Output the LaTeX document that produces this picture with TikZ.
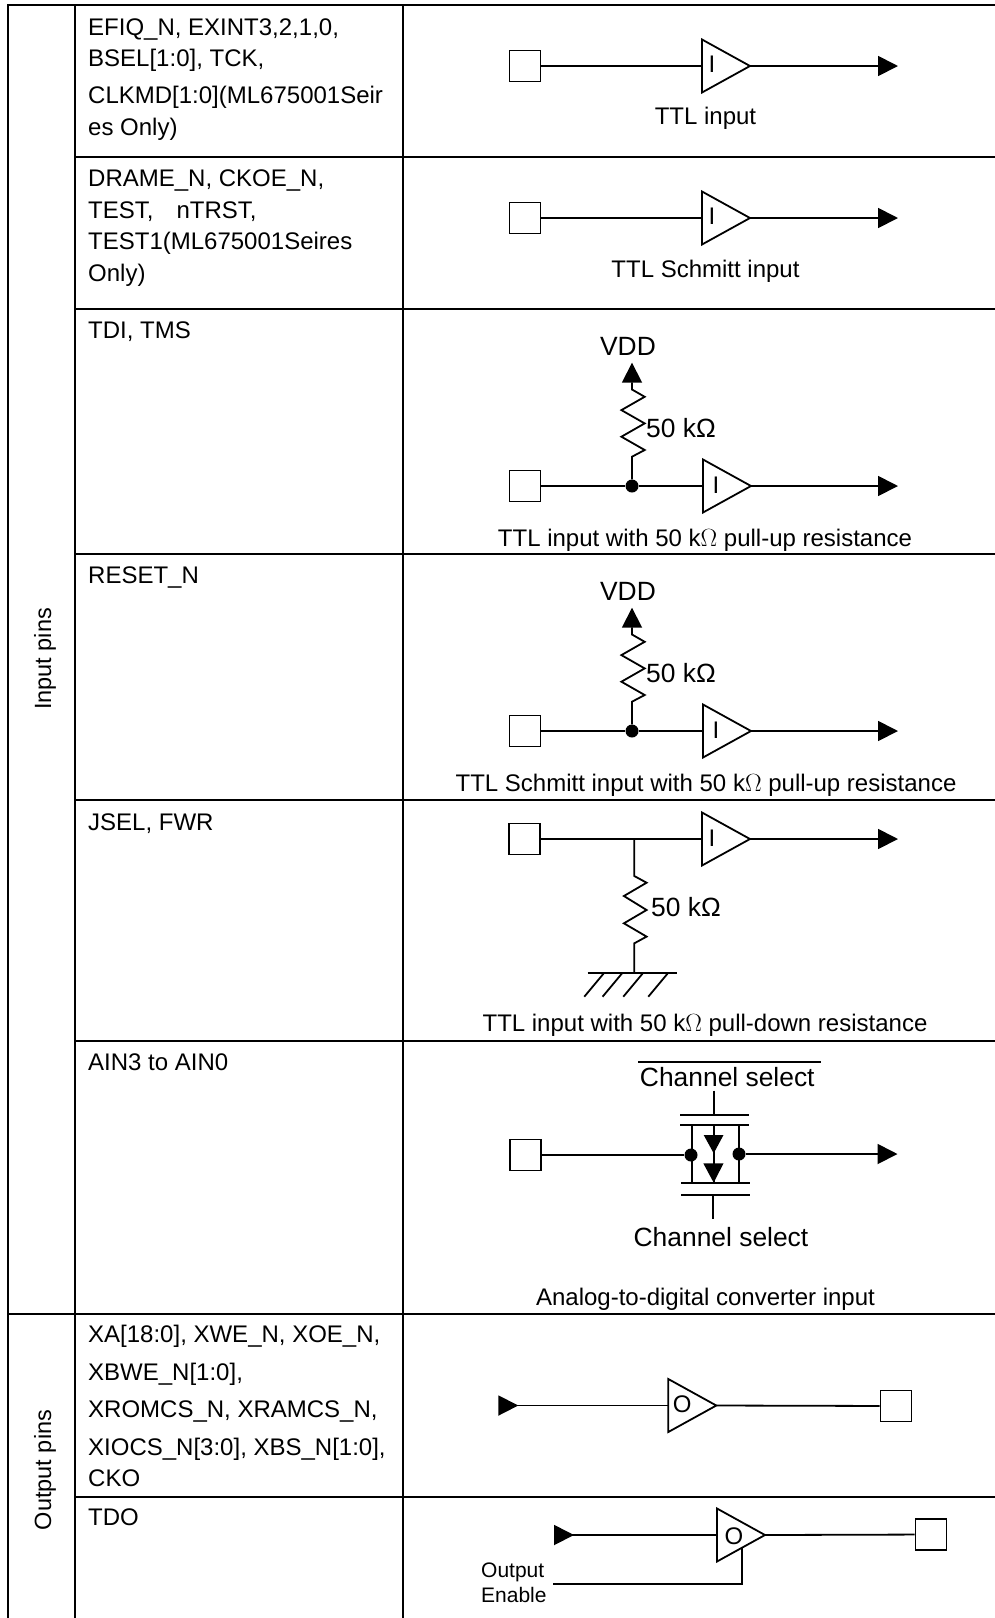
\documentclass[tikz,border=0pt]{standalone}
\usepackage{fontspec}
\setmainfont{Liberation Sans}
\usetikzlibrary{arrows.meta, shapes.geometric}
\tikzset{
	wire/.style={line width=1.8pt},
	rule/.style={line width=2pt},
	outtip/.style={-{Triangle[length=20pt,width=20pt]}},
	backtip/.style={{Triangle[reversed,length=20pt,width=20pt]}-},
	pad/.style={draw, line width=1.8pt, fill=white, inner sep=0pt, minimum size=31pt},
	dot/.style={circle, fill=black, inner sep=0pt, minimum size=13pt},
	buffer/.style={isosceles triangle, isosceles triangle stretches, draw, line width=1.8pt, inner sep=0pt, outer sep=0pt, minimum height=48pt, minimum width=53pt, anchor=lower side},
	txt/.style={inner sep=0pt, text height=17pt, text depth=0pt},
	cell/.style={txt, anchor=west, font=\fontsize{24}{28}\selectfont},
	side/.style={txt, rotate=90, font=\fontsize{23.5}{28}\selectfont},
	caption/.style={txt, font=\fontsize{24}{28}\selectfont},
	symlab/.style={txt, font=\fontsize{26.4}{30}\selectfont},
	gatelab/.style={txt, font=\fontsize{24}{28}\selectfont},
	smalllab/.style={txt, anchor=west, font=\fontsize{21}{24}\selectfont}
}
\begin{document}
\begin{tikzpicture}[x=1pt,y=-1pt]
	\useasboundingbox (0,0) rectangle (995,1618);

% table
	\draw[rule] (995,4.5) -- (8,4.5) -- (8,1618);
	\draw[rule] (75.3,4.5) -- (75.3,1618);
	\draw[rule] (403,4.5) -- (403,1618);
	\draw[rule] (75.3,157) -- (995,157);
	\draw[rule] (75.3,309) -- (995,309);
	\draw[rule] (75.3,554) -- (995,554);
	\draw[rule] (75.3,800) -- (995,800);
	\draw[rule] (75.3,1040.5) -- (995,1040.5);
	\draw[rule] (8,1314) -- (995,1314);
	\draw[rule] (75.3,1497) -- (995,1497);

% left column
	\node[side] (inpins) at (42.5,659) {Input pins};
	\node[side] (outpins) at (42.5,1470) {Output pins};

% pin names
	\node[cell] (a1) at (88,26.7) {EFIQ\_N, EXINT3,2,1,0,};
	\node[cell] (a2) at (88,58.3) {BSEL[1:0], TCK,};
	\node[cell] (a3) at (88,95) {CLKMD[1:0](ML675001Seir};
	\node[cell] (a4) at (88,126.7) {es Only)};

	\node[cell] (b1) at (88,178) {DRAME\_N, CKOE\_N,};
	\node[cell] (b2) at (88,210) {TEST,\ \ \ \hskip 3pt nTRST,};
	\node[cell] (b3) at (88,240.7) {TEST1(ML675001Seires};
	\node[cell] (b4) at (88,273) {Only)};

	\node[cell] (c1) at (88,330) {TDI, TMS};
	\node[cell] (d1) at (88,575) {RESET\_N};
	\node[cell] (e1) at (88,821.6) {JSEL, FWR};
	\node[cell] (f1) at (88,1062) {AIN3 to AIN0};

	\node[cell] (g1) at (88,1334) {XA[18:0], XWE\_N, XOE\_N,};
	\node[cell] (g2) at (88,1371.7) {XBWE\_N[1:0],};
	\node[cell] (g3) at (88,1409) {XROMCS\_N, XRAMCS\_N,};
	\node[cell] (g4) at (88,1446.7) {XIOCS\_N[3:0], XBS\_N[1:0],};
	\node[cell] (g5) at (88,1478) {CKO};
	\node[cell] (h1) at (88,1517) {TDO};

% TTL input
	\node[pad] (pad1) at (525,66) {};
	\node[buffer] (buf1) at (702,66) {};
	\node[gatelab] (i1) at (712,64) {I};
	\coordinate (out1) at (898,66);
	\draw[wire] (pad1) -- (buf1.lower side);
	\draw[wire,outtip] (buf1.apex) -- (out1);
	\node[caption] (cap1) at (705.5,116) {TTL input};

% TTL Schmitt input
	\node[pad] (pad2) at (525,218) {};
	\node[buffer] (buf2) at (702,218) {};
	\node[gatelab] (i2) at (712,216) {I};
	\coordinate (out2) at (898,218);
	\draw[wire] (pad2) -- (buf2.lower side);
	\draw[wire,outtip] (buf2.apex) -- (out2);
	\node[caption] (cap2) at (705.5,269) {TTL Schmitt input};

% pull-up
	\node[pad] (pad3) at (525,486) {};
	\node[dot] (dot3) at (632,486) {};
	\node[buffer] (buf3) at (703,486) {};
	\node[gatelab] (i3) at (716,485) {I};
	\coordinate (out3) at (898,486);
	\coordinate (vdd3) at (632,362.7);
	\draw[wire] (pad3) -- (dot3) -- (buf3.lower side);
	\draw[wire,outtip] (buf3.apex) -- (out3);
	\draw[wire,outtip] (dot3) -- (632,456.7) -- ++(12.7,-6.7) -- ++(-23.3,-13.3) -- ++(23.3,-13.3) -- ++(-23.3,-13.3) -- ++(23.3,-13.3) -- ++(-12.7,-7.3) -- (vdd3);
	\node[symlab] (vddlab3) at (628,347) {VDD};
	\node[symlab,anchor=west] (res3) at (646,429) {50 kΩ};
	\node[caption] (cap3) at (705,538) {TTL input with 50 k$\Omega$ pull-up resistance};

% Schmitt pull-up
	\node[pad] (pad4) at (525,731) {};
	\node[dot] (dot4) at (632,731) {};
	\node[buffer] (buf4) at (703,731) {};
	\node[gatelab] (i4) at (716,730) {I};
	\coordinate (out4) at (898,731);
	\coordinate (vdd4) at (632,607.7);
	\draw[wire] (pad4) -- (dot4) -- (buf4.lower side);
	\draw[wire,outtip] (buf4.apex) -- (out4);
	\draw[wire,outtip] (dot4) -- (632,701.7) -- ++(12.7,-6.7) -- ++(-23.3,-13.3) -- ++(23.3,-13.3) -- ++(-23.3,-13.3) -- ++(23.3,-13.3) -- ++(-12.7,-7.3) -- (vdd4);
	\node[symlab] (vddlab4) at (628,592) {VDD};
	\node[symlab,anchor=west] (res4) at (646,674) {50 kΩ};
	\node[caption] (cap4) at (706,782.5) {TTL Schmitt input with 50 k$\Omega$ pull-up resistance};

% pull-down
	\node[pad] (pad5) at (524.5,839) {};
	\node[buffer] (buf5) at (702,839) {};
	\node[gatelab] (i5) at (712,838) {I};
	\coordinate (out5) at (898,839);
	\coordinate (jun5) at (634.3,839);
	\coordinate (gnd5) at (634.3,972.7);
	\draw[wire] (pad5) -- (buf5.lower side);
	\draw[wire,outtip] (buf5.apex) -- (out5);
	\draw[wire] (jun5) -- (634.3,876) -- ++(12.3,6.7) -- ++(-22.7,13.3) -- ++(22.7,14) -- ++(-22.7,13.3) -- ++(22.7,13.3) -- ++(-12.3,6.7) -- (gnd5);
	\draw[wire] (587.7,972.7) -- (676.7,972.7);
	\draw[wire] (gnd5) ++(-30,0) -- ++(-20,24);
	\draw[wire] (gnd5) ++(-11.7,0) -- ++(-20,24);
	\draw[wire] (gnd5) ++(9,0) -- ++(-20,24);
	\draw[wire] (gnd5) ++(34,0) -- ++(-20,24);
	\node[symlab,anchor=west] (res5) at (651,908.3) {50 kΩ};
	\node[caption] (cap5) at (705,1023) {TTL input with 50 k$\Omega$ pull-down resistance};

% analog input
	\node[pad] (pad6) at (525.5,1155) {};
	\node[dot] (dotl) at (691,1155) {};
	\node[dot] (dotr) at (739,1154) {};
	\coordinate (out6) at (897.5,1154);
	\draw[wire] (pad6) -- (dotl);
	\draw[wire,outtip] (dotr) -- (out6);

	\draw[wire] (638.3,1062.3) -- (820.7,1062.3);
	\node[symlab] (chtop) at (727.3,1078) {Channel select};
	\draw[wire] (714.3,1090.7) -- (714.3,1115);
	\draw[rule] (680,1115) -- (749,1115);
	\draw[wire] (680,1124.7) -- (749,1124.7);
	\draw[wire] (691.7,1124.7) -- (691.7,1182.7);
	\draw[wire] (739,1124.7) -- (739,1182.7);
	\draw[wire] (713.7,1124.7) -- (713.7,1182.7);
	\fill (703.7,1135) -- (723.5,1135) -- (713.7,1153.3) -- cycle;
	\fill (703.3,1163.3) -- (723.5,1163.3) -- (713.7,1182.7) -- cycle;
	\draw[rule] (681,1182.7) -- (750,1182.7);
	\draw[wire] (681,1195.3) -- (750,1195.3);
	\draw[wire] (713.3,1195.3) -- (713.3,1219);
	\node[symlab] (chbot) at (721,1238.3) {Channel select};
	\node[caption] (cap6) at (705.5,1297.3) {Analog-to-digital converter input};

% output
	\node[pad] (pad7) at (896,1406) {};
	\node[buffer] (buf7) at (668.3,1405.5) {};
	\node[gatelab] (o7) at (682.3,1404) {O};
	\coordinate (in7) at (498.3,1405.5);
	\draw[wire,backtip] (in7) -- (buf7.lower side);
	\draw[wire] (buf7.apex) -- (pad7);

% output with enable
	\node[pad] (pad8) at (931,1534.5) {};
	\node[buffer] (buf8) at (717,1535) {};
	\node[gatelab] (o8) at (734,1535.5) {O};
	\coordinate (in8) at (554,1535);
	\coordinate (oe8) at (553,1584);
	\coordinate (oeup8) at (742.3,1548);
	\draw[wire,backtip] (in8) -- (buf8.lower side);
	\draw[wire] (buf8.apex) -- (pad8);
	\draw[wire] (oe8) -| (oeup8);
	\node[smalllab] (oea) at (481,1569) {Output};
	\node[smalllab] (oeb) at (481,1594) {Enable};
\end{tikzpicture}
\end{document}
